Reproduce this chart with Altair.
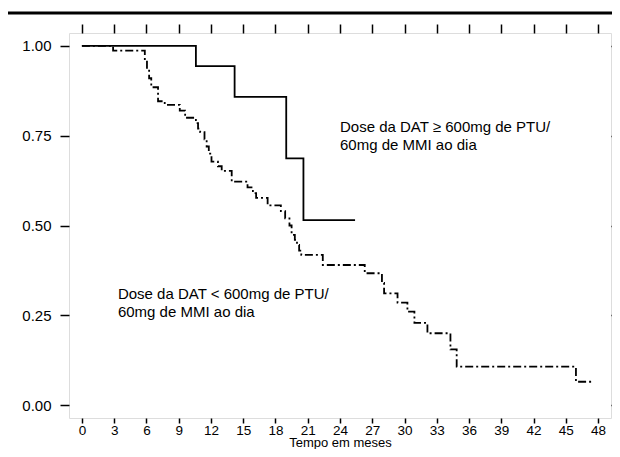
import altair as alt
import pandas as pd

# High dose group (solid)
hi_months = [0, 10.6, 14.2, 19.0, 20.6, 25.4]
hi_surv = [1.0, 0.944, 0.858, 0.687, 0.515, 0.515]

# Low dose group (dash-dot)
lo_months = [0, 2.9, 5.85, 6.05, 6.25, 6.45, 7.08, 7.7, 9.1, 9.6, 10.6, 10.8, 11.0,
             11.4, 11.6, 11.8, 12.05, 12.65, 13.0, 13.93, 15.4, 15.9, 16.2, 17.27,
             18.5, 18.9, 19.3, 19.5, 19.8, 20.0, 20.2, 20.4, 22.4, 26.3, 27.9, 28.1,
             29.35, 30.27, 30.92, 32.13, 34.27, 34.85, 45.94, 47.5]
lo_surv = [1.0, 0.987, 0.96, 0.935, 0.91, 0.885, 0.846, 0.836, 0.82, 0.80, 0.785, 0.77, 0.76,
           0.74, 0.72, 0.70, 0.678, 0.665, 0.652, 0.622, 0.606, 0.59, 0.577, 0.556,
           0.54, 0.52, 0.50, 0.474, 0.46, 0.446, 0.43, 0.418, 0.39, 0.367, 0.34, 0.311,
           0.285, 0.26, 0.229, 0.20, 0.155, 0.107, 0.065, 0.065]

x_ticks = list(range(0, 49, 3))
y_ticks = [0.0, 0.25, 0.5, 0.75, 1.0]

label_texts = ["Dose da DAT \u2265 600mg de PTU/\n60mg de MMI ao dia",
               "Dose da DAT < 600mg de PTU/\n60mg de MMI ao dia"]
label_x = [24.0, 3.35]
label_y = [0.774, 0.309]

FONT = "Liberation Sans"

hi_df = pd.DataFrame({"t": hi_months, "s": hi_surv})
lo_df = pd.DataFrame({"t": lo_months, "s": lo_surv})
lab_df = pd.DataFrame({"t": label_x, "s": label_y, "txt": label_texts})

xscale = alt.Scale(domain=[-1.2, 49.2], nice=False, zero=False)
yscale = alt.Scale(domain=[-0.036, 1.036], nice=False, zero=False)

hi = alt.Chart(hi_df).mark_line(interpolate="step-after", color="black", strokeWidth=1.8).encode(
    x=alt.X("t:Q", scale=xscale,
            axis=alt.Axis(orient="bottom", values=x_ticks, title="Tempo em meses", format="d",
                          domain=False, grid=False, tickSize=5, tickWidth=1.5, tickColor="black",
                          labelFont=FONT, labelFontSize=13.5, labelColor="black", labelPadding=0,
                          titleFont=FONT, titleFontSize=13, titleFontWeight="normal",
                          titleColor="black", titlePadding=0)),
    y=alt.Y("s:Q", scale=yscale,
            axis=alt.Axis(orient="left", values=y_ticks, format=".2f", title=None,
                          domain=False, grid=False, tickSize=9, tickWidth=1.5, tickColor="black",
                          labelFont=FONT, labelFontSize=15, labelColor="black", labelPadding=9)),
)

lo = alt.Chart(lo_df).mark_line(interpolate="step-after", color="black", strokeWidth=1.8,
                                strokeDash=[8, 3, 2, 3]).encode(
    x=alt.X("t:Q", scale=xscale,
            axis=alt.Axis(orient="top", values=x_ticks, labels=False, title=None,
                          domain=False, grid=False, tickSize=9, tickWidth=1.5, tickColor="black")),
    y=alt.Y("s:Q", scale=yscale,
            axis=alt.Axis(orient="right", values=y_ticks, labels=False, title=None,
                          domain=False, grid=False, tickSize=9, tickWidth=1.5, tickColor="black")),
)

labels = alt.Chart(lab_df).mark_text(align="left", baseline="middle", lineBreak="\n",
                                     lineHeight=18, font=FONT, fontSize=15, color="black").encode(
    x=alt.X("t:Q", scale=xscale, axis=None),
    y=alt.Y("s:Q", scale=yscale, axis=None),
    text="txt:N",
)

top_rule = alt.Chart(pd.DataFrame({"a": [0]})).mark_rule(color="black", strokeWidth=3, clip=False).encode(
    x=alt.value(-70), x2=alt.value(560), y=alt.value(-20)
)

chart = alt.layer(hi, lo, labels, top_rule).resolve_axis(x="independent", y="independent").properties(
    width=542, height=385,
    autosize=alt.AutoSizeParams(type="none"),
    padding={"left": 61, "top": 25, "right": 1, "bottom": 31},
).configure_view(stroke="black", strokeWidth=2).configure(background="white")

chart.save("out.html", embed_options={"renderer": "svg", "actions": False})
